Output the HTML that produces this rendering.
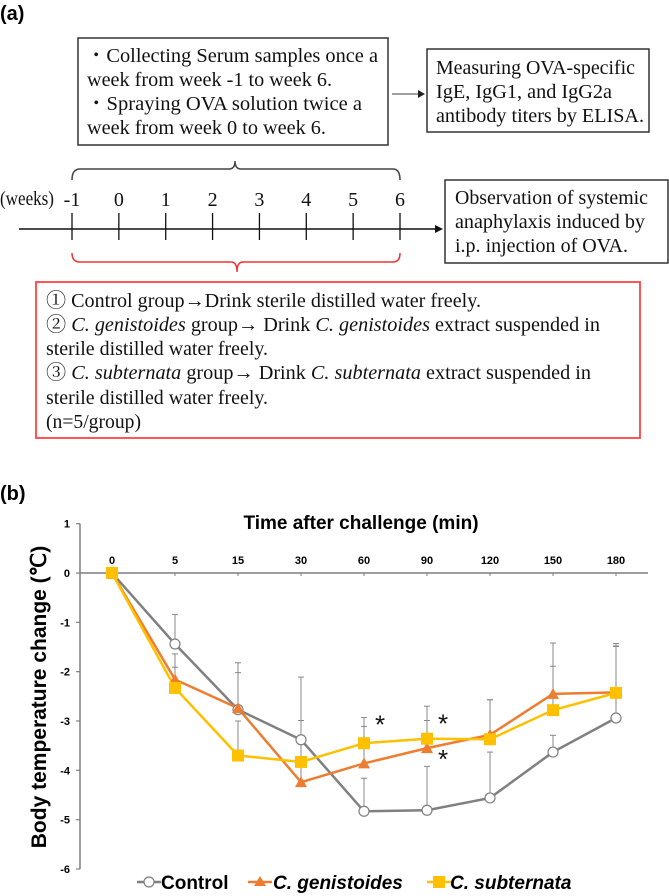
<!DOCTYPE html>
<html><head><meta charset="utf-8"><style>
html,body{margin:0;padding:0;background:#fff;}
svg{display:block;}
.s{font-family:"Liberation Serif","Noto Serif CJK SC",serif;font-size:20px;fill:#111;}
.b{font-family:"Liberation Sans",sans-serif;font-weight:bold;fill:#000;}
</style></head><body>
<svg id="root" width="669" height="896" viewBox="0 0 669 896" xmlns="http://www.w3.org/2000/svg">
<g>
<text x="0" y="20" class="b" font-size="20">(a)</text>
<rect x="78" y="38" width="310" height="107" fill="none" stroke="#333" stroke-width="1.5"/>
<text class="s" x="86" y="62" textLength="292" lengthAdjust="spacingAndGlyphs">・Collecting Serum samples once a</text>
<text class="s" x="87" y="86" textLength="245" lengthAdjust="spacingAndGlyphs">week from week -1 to week 6.</text>
<text class="s" x="86" y="110" textLength="276" lengthAdjust="spacingAndGlyphs">・Spraying OVA solution twice a</text>
<text class="s" x="87" y="134" textLength="239" lengthAdjust="spacingAndGlyphs">week from week 0 to week 6.</text>
<line x1="392" y1="94" x2="418" y2="94" stroke="#666" stroke-width="1.2"/>
<polygon points="418,90 425,94 418,98" fill="#222"/>
<rect x="427" y="49" width="222" height="83" fill="none" stroke="#333" stroke-width="1.5"/>
<text class="s" x="436" y="74" textLength="199" lengthAdjust="spacingAndGlyphs">Measuring OVA-specific</text>
<text class="s" x="436" y="98" textLength="176" lengthAdjust="spacingAndGlyphs">IgE, IgG1, and IgG2a</text>
<text class="s" x="436" y="122" textLength="208" lengthAdjust="spacingAndGlyphs">antibody titers by ELISA.</text>
<path d="M72,180 Q72,169 80,169 L229,169 Q235,169 235,161 Q235,169 241,169 L393,169 Q400,169 400,180" fill="none" stroke="#444" stroke-width="1.5"/>
<text class="s" x="0" y="205" font-size="17" textLength="54" lengthAdjust="spacingAndGlyphs">(weeks)</text>
<g id="weeks"></g>
<line x1="19" y1="229" x2="436" y2="229" stroke="#111" stroke-width="1.5"/>
<polygon points="435,225 443,229 435,233" fill="#111"/>
<rect x="445" y="180" width="223" height="83" fill="none" stroke="#333" stroke-width="1.5"/>
<text class="s" x="455" y="204" textLength="193" lengthAdjust="spacingAndGlyphs">Observation of systemic</text>
<text class="s" x="455" y="228" textLength="190" lengthAdjust="spacingAndGlyphs">anaphylaxis induced by</text>
<text class="s" x="455" y="252" textLength="173" lengthAdjust="spacingAndGlyphs">i.p. injection of OVA.</text>
<path d="M72,253 Q72,262 80,262 L231,262 Q237,262 237,272 Q237,262 243,262 L393,262 Q400,262 400,253" fill="none" stroke="#e33" stroke-width="1.5"/>
<rect x="36" y="282" width="604" height="156" fill="none" stroke="#f44" stroke-width="1.8"/>
<text class="s" x="46" y="307" textLength="435" lengthAdjust="spacingAndGlyphs">① Control group→Drink sterile distilled water freely.</text>
<text class="s" x="46" y="331" textLength="554" lengthAdjust="spacingAndGlyphs">② <tspan font-style="italic">C. genistoides</tspan> group→ Drink <tspan font-style="italic">C. genistoides</tspan> extract suspended in</text>
<text class="s" x="46" y="355" textLength="222" lengthAdjust="spacingAndGlyphs">sterile distilled water freely.</text>
<text class="s" x="46" y="379" textLength="545" lengthAdjust="spacingAndGlyphs">③ <tspan font-style="italic">C. subternata</tspan> group→ Drink <tspan font-style="italic">C. subternata</tspan> extract suspended in</text>
<text class="s" x="46" y="404" textLength="222" lengthAdjust="spacingAndGlyphs">sterile distilled water freely.</text>
<text class="s" x="46" y="428" textLength="95" lengthAdjust="spacingAndGlyphs">(n=5/group)</text>
</g>
<g>
<text x="0" y="500" class="b" font-size="20">(b)</text>
<text x="361" y="529" class="b" font-size="19" text-anchor="middle">Time after challenge (min)</text>
<text transform="translate(46,697) rotate(-90)" class="b" font-size="21" text-anchor="middle">Body temperature change (℃)</text>
<g id="chart"></g>
<g>
<g>
<line x1="137" y1="882" x2="161" y2="882" stroke="#808080" stroke-width="2.5"/>
<circle cx="149" cy="882" r="5" fill="#fff" stroke="#808080" stroke-width="1.2"/>
<text x="161" y="889" class="b" font-size="19">Control</text></g>
<g>
<line x1="248" y1="882" x2="272" y2="882" stroke="#ED7D31" stroke-width="2.5"/>
<polygon points="260,876 266,886 254,886" fill="#ED7D31"/>
<text x="273" y="889" class="b" font-size="19" font-style="italic">C. genistoides</text></g>
<g>
<line x1="427" y1="882" x2="451" y2="882" stroke="#FFC000" stroke-width="2.5"/>
<rect x="433" y="876" width="12" height="12" fill="#FFC000"/>
<text x="450" y="889" class="b" font-size="19" font-style="italic">C. subternata</text></g>
</g>
</g>
</svg>
<script>
const weekLabels = ["-1","0","1","2","3","4","5","6"];
const categories = ["0","5","15","30","60","90","120","150","180"];
const yTicks = [1,0,-1,-2,-3,-4,-5,-6];
const controlMean = [0,-1.44,-2.77,-3.38,-4.83,-4.81,-4.56,-3.63,-2.94];
const controlErr = [0,0.60,0.75,1.27,0.67,0.89,0.93,0.34,1.46];
const genMean = [0,-2.16,-2.74,-4.24,-3.86,-3.55,-3.28,-2.45,-2.42];
const genErr = [0,0.52,0.92,1.25,0.75,0.56,0.71,1.03,0.99];
const subMean = [0,-2.33,-3.70,-3.83,-3.45,-3.36,-3.37,-2.78,-2.43];
const subErr = [0,0.42,0.70,0.40,0.52,0.66,0.80,0.89,0.94];
const stars = [{i:4,v:-2.95},{i:5,v:-2.93},{i:5,v:-3.65}];

const NS="http://www.w3.org/2000/svg";
function mk(tag,attrs,parent){const e=document.createElementNS(NS,tag);for(const k in attrs)e.setAttribute(k,attrs[k]);parent.appendChild(e);return e;}
const wk=document.getElementById('weeks');
const wx=i=>72+i*(400-72)/7;
weekLabels.forEach((w,i)=>{
  const t=mk('text',{x:wx(i),y:206,'text-anchor':'middle','class':'s','font-size':'22'},wk);t.textContent=w;
  
  
  const l=mk('line',{x1:wx(i),y1:213,x2:wx(i),y2:240,stroke:'#111','stroke-width':1.3},wk);
  
  
});
const ch=document.getElementById('chart');
const X=i=>112+i*63;
const Y=v=>573-v*49.33;
mk('line',{x1:80,y1:Y(1),x2:80,y2:Y(-6),stroke:'#7f7f7f','stroke-width':1.5},ch);
mk('line',{x1:80,y1:Y(0),x2:648,y2:Y(0),stroke:'#7f7f7f','stroke-width':1.5},ch);
yTicks.forEach(v=>{
  mk('line',{x1:76,y1:Y(v),x2:80,y2:Y(v),stroke:'#7f7f7f','stroke-width':1.2},ch);
  const t=mk('text',{x:70,y:Y(v)+4,'text-anchor':'end','class':'b','font-size':'11'},ch);t.textContent=v;
  
  
});
categories.forEach((c,i)=>{
  mk('line',{x1:X(i),y1:Y(0),x2:X(i),y2:Y(0)+3,stroke:'#7f7f7f','stroke-width':1},ch);
  const t=mk('text',{x:X(i),y:564,'text-anchor':'middle','class':'b','font-size':'11'},ch);t.textContent=c;
  
  
});
function errBars(mean,err,name){
  mean.forEach((m,i)=>{ if(!err[i])return;
    const g=mk('g',{},ch);
    
    
    mk('line',{x1:X(i),y1:Y(m),x2:X(i),y2:Y(m+err[i]),stroke:'#888','stroke-width':1},g);
    mk('line',{x1:X(i)-3,y1:Y(m+err[i]),x2:X(i)+3,y2:Y(m+err[i]),stroke:'#888','stroke-width':1},g);
  });
}
errBars(controlMean,controlErr,'control');
errBars(genMean,genErr,'genistoides');
errBars(subMean,subErr,'subternata');
function line(mean,color,name){
  const p=mk('polyline',{points:mean.map((m,i)=>X(i)+','+Y(m)).join(' '),fill:'none',stroke:color,'stroke-width':2.5},ch);
  
  
}
line(controlMean,'#808080','control');
line(genMean,'#ED7D31','genistoides');
line(subMean,'#FFC000','subternata');
controlMean.forEach((m,i)=>{const c=mk('circle',{cx:X(i),cy:Y(m),r:5,fill:'#fff',stroke:'#808080','stroke-width':1.2},ch);
  
  });
genMean.forEach((m,i)=>{const x=X(i),y=Y(m);const c=mk('polygon',{points:`${x},${y-6} ${x+6},${y+5} ${x-6},${y+5}`,fill:'#ED7D31'},ch);
  
  });
subMean.forEach((m,i)=>{const c=mk('rect',{x:X(i)-6,y:Y(m)-6,width:12,height:12,fill:'#FFC000'},ch);
  
  });
stars.forEach(s=>{const t=mk('text',{x:X(s.i)+16,y:Y(s.v)+15,'text-anchor':'middle','font-family':'Liberation Sans,sans-serif','font-size':'26',fill:'#111'},ch);t.textContent='*';
  
  });
</script>
</body></html>
